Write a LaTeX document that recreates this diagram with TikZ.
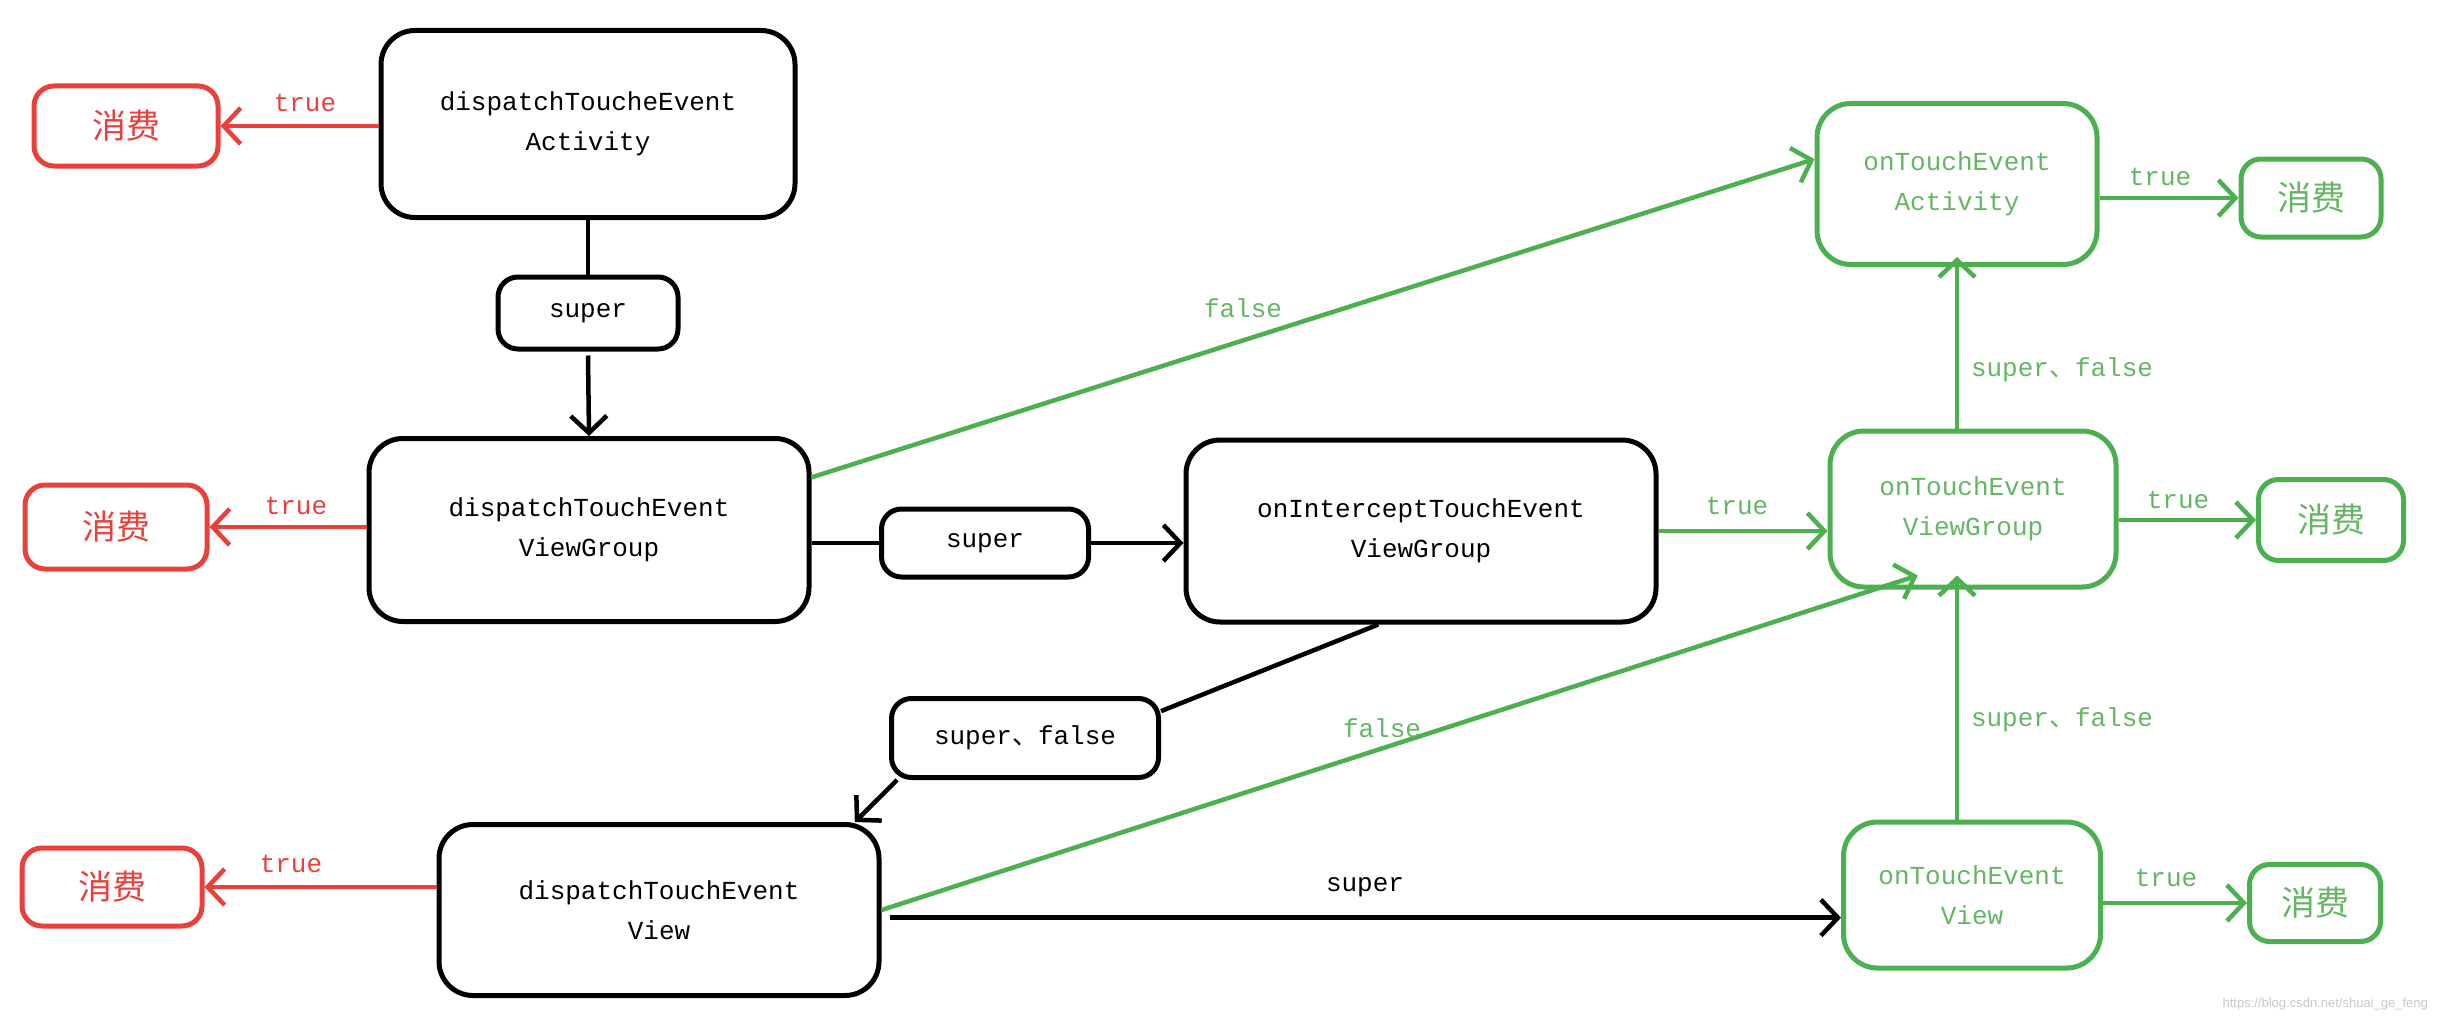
\documentclass[tikz,border=0pt]{standalone}
\usepackage{fontspec}
\setmonofont{Liberation Mono}
\newfontfamily\cjk{Noto Sans CJK SC}
\newfontfamily\wmfont{Liberation Sans}
\usetikzlibrary{arrows.meta,calc}
\definecolor{rd}{RGB}{232,64,58}
\definecolor{gn}{RGB}{76,175,80}
\definecolor{gnt}{RGB}{100,182,100}
\definecolor{wmc}{RGB}{200,200,200}
\begin{document}
\begin{tikzpicture}[x=1pt,y=-1pt,
  txt/.style={font=\fontsize{26}{40}\selectfont\ttfamily},
  box/.style={draw, line width=5pt, rounded corners=34pt, inner sep=0pt, align=center, txt},
  sbox/.style={draw, line width=5pt, rounded corners=20pt, inner sep=0pt, align=center, txt},
  cbox/.style={draw, line width=5pt, rounded corners=20pt, inner sep=0pt, font=\fontsize{34}{40}\selectfont\cjk},
  redbox/.style={cbox, draw=rd, text=rd},
  grnbox/.style={box, draw=gn, text=gnt},
  grncbox/.style={cbox, draw=gn, text=gnt},
  lab/.style={txt, inner sep=0pt},
  conn/.style={line width=4.5pt},
  arr/.style={conn, -{Straight Barb[length=17pt,width=36pt]}},
  redarr/.style={arr, draw=rd},
  grnarr/.style={arr, draw=gn},
]
\useasboundingbox[fill=white] (0,0) rectangle (2440,1022);

% black boxes
\node[box, minimum width=414pt, minimum height=187pt] (a1) at (588,124) {dispatchToucheEvent\\Activity};
\node[sbox, minimum width=180pt, minimum height=72pt] (s1) at (588,313) {super};
\node[box, minimum width=440pt, minimum height=183pt] (vg) at (589,530) {dispatchTouchEvent\\ViewGroup};
\node[sbox, minimum width=207pt, minimum height=68pt] (s2) at (985,543) {super};
\node[box, minimum width=470pt, minimum height=182pt] (oi) at (1421,531) {onInterceptTouchEvent\\ViewGroup};
\node[sbox, minimum width=267pt, minimum height=79pt] (sf) at (1025,738) {super{\cjk 、}false};
\node[box, minimum width=440pt, minimum height=171pt] (v) at (659,910) {dispatchTouchEvent\\View};

% red boxes
\node[redbox, minimum width=184pt, minimum height=80pt] (r1) at (126,126) {消费};
\node[redbox, minimum width=182pt, minimum height=84pt] (r2) at (116,527) {消费};
\node[redbox, minimum width=180pt, minimum height=78pt] (r3) at (112,887) {消费};

% green boxes
\node[grnbox, minimum width=280pt, minimum height=161pt] (ta) at (1957,184) {onTouchEvent\\Activity};
\node[grnbox, minimum width=286pt, minimum height=156pt] (tvg) at (1973,509) {onTouchEvent\\ViewGroup};
\node[grnbox, minimum width=257pt, minimum height=146pt] (tv) at (1972,895) {onTouchEvent\\View};
\node[grncbox, minimum width=140pt, minimum height=78pt] (g1) at (2311,198) {消费};
\node[grncbox, minimum width=145pt, minimum height=81pt] (g2) at (2331,520) {消费};
\node[grncbox, minimum width=131pt, minimum height=77pt] (g3) at (2315,903) {消费};

% black connectors
\draw[conn] (a1.south) -- (s1.north);
\draw[arr] (s1.south) ++(0,4) coordinate (s1b) (s1b) -- (vg.north);
\draw[conn] (s2.west -| vg.east) -- (s2.west);
\draw[arr] (s2.east) -- (s2.east -| oi.west);
\coordinate (oib) at ($(oi.south west)!0.41!(oi.south east)$);
\coordinate (sfe) at ($(sf.north east)!0.18!(sf.south east)$);
\draw[conn] (oib) -- (sfe);
\coordinate (vtop) at ($(v.north west)!0.94!(v.north east)$);
\draw[arr] (sf.south west) ++(8,0) coordinate (sfsw) (sfsw) -- (vtop);
\coordinate (tvin) at ($(tv.north west)!0.65!(tv.south west)$);
\draw[arr] (tvin -| v.east) ++(8,0) coordinate (vout) (vout) -- (tvin);

% red connectors
\draw[redarr] (r1.east -| a1.west) -- (r1.east);
\draw[redarr] (r2.east -| vg.west) -- (r2.east);
\draw[redarr] (r3.east -| v.west) -- (r3.east);

% green connectors
\coordinate (vgout) at ($(vg.north east)!0.22!(vg.south east)$);
\coordinate (tain) at ($(ta.north west)!0.35!(ta.south west)$);
\draw[grnarr] (vgout) -- (tain);
\draw[grnarr] (oi.east) -- (oi.east -| tvg.west);
\draw[grnarr] (ta.south |- tvg.north) -- ([yshift=10pt]ta.south);
\draw[grnarr] (ta.south |- tv.north) -- ([yshift=14pt]ta.south |- tvg.south);
\coordinate (tvgin) at ($(tvg.south west)!0.31!(tvg.south east)$);
\draw[grnarr] (v.east) -- ([yshift=14pt]tvgin);
\draw[grnarr] (ta.east |- g1.west) -- (g1.west);
\draw[grnarr] (tvg.east |- g2.west) -- (g2.west);
\draw[grnarr] (tv.east |- g3.west) -- (g3.west);

% labels
\node[lab, text=rd] (t1) at (305,103) {true};
\node[lab, text=rd] (t2) at (296,506) {true};
\node[lab, text=rd] (t3) at (291,864) {true};
\node[lab, text=gnt] (lf1) at (1243,308) {false};
\node[lab, text=gnt] (ltr) at (1737,506) {true};
\node[lab, text=gnt] (lf2) at (1382,728) {false};
\node[lab] (lsup) at (1365,887) {super};
\node[lab, text=gnt] (lsf1) at (2062,370) {super{\cjk 、}false};
\node[lab, text=gnt] (lsf2) at (2062,720) {super{\cjk 、}false};
\node[lab, text=gnt] (gt1) at (2160,177) {true};
\node[lab, text=gnt] (gt2) at (2178,500) {true};
\node[lab, text=gnt] (gt3) at (2166,878) {true};
\node[inner sep=0pt, anchor=east, text=wmc, font=\fontsize{13}{16}\selectfont\wmfont] (wm) at (2428,1004) {https://blog.csdn.net/shuai\_ge\_feng};
\end{tikzpicture}
\end{document}
